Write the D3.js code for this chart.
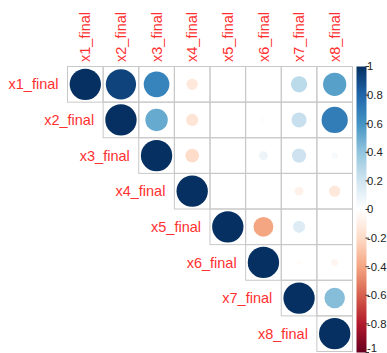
<!DOCTYPE html>
<html>
<head>
<meta charset="utf-8">
<script src="https://cdn.jsdelivr.net/npm/d3@7/dist/d3.min.js"></script>
<style>
  html, body { margin: 0; padding: 0; background: #fff; }
  svg { display: block; }
</style>
</head>
<body>
<script>
// Variable names (rows and columns of the correlation matrix)
const vars = ["x1_final", "x2_final", "x3_final", "x4_final", "x5_final", "x6_final", "x7_final", "x8_final"];

// Upper-triangle correlations, one array per row (starting at the diagonal)
const rowX1 = [1, 0.93, 0.67, -0.13, 0.01, 0.00, 0.27, 0.55];
const rowX2 = [1, 0.51, -0.15, 0.01, -0.02, 0.23, 0.70];
const rowX3 = [1, -0.19, 0.005, 0.08, 0.21, 0.04];
const rowX4 = [1, 0.01, 0.01, -0.08, -0.13];
const rowX5 = [1, -0.40, 0.15, 0.00];
const rowX6 = [1, -0.02, -0.05];
const rowX7 = [1, 0.43];
const rowX8 = [1];
const rows = [rowX1, rowX2, rowX3, rowX4, rowX5, rowX6, rowX7, rowX8];

// Colour legend tick labels
const legendTicks = [1, 0.8, 0.6, 0.4, 0.2, 0, -0.2, -0.4, -0.6, -0.8, -1];

// Red-blue diverging palette
const palette = ["#67001F", "#B2182B", "#D6604D", "#F4A582", "#FDDBC7", "#FFFFFF",
                 "#D1E5F0", "#92C5DE", "#4393C3", "#2166AC", "#053061"];

const W = 387, H = 353;
const svg = d3.select("body").append("svg").attr("width", W).attr("height", H);

const x = d3.scaleBand().domain(vars).range([67.5, 352.5]);
const y = d3.scaleBand().domain(vars).range([66.5, 351.5]);
const cell = x.bandwidth();

const color = d3.scaleLinear()
  .domain(d3.range(palette.length).map(i => -1 + 2 * i / (palette.length - 1)))
  .range(palette)
  .interpolate(d3.interpolateRgb);

const radius = d3.scaleSqrt().domain([0, 1]).range([0, cell * 0.44]);

// flatten into cells
const cells = [];
rows.forEach((vals, i) => {
  vals.forEach((v, k) => {
    const j = i + k;
    cells.push({ row: vars[i], col: vars[j], value: v });
  });
});

// grid
svg.append("g").selectAll("rect").data(cells).join("rect")
  .attr("x", d => x(d.col))
  .attr("y", d => y(d.row))
  .attr("width", cell)
  .attr("height", cell)
  .attr("fill", "none")
  .attr("stroke", "#c8c8c8")
  .attr("stroke-width", 1);

// circles
svg.append("g").selectAll("circle").data(cells).join("circle")
  .attr("cx", d => x(d.col) + cell / 2)
  .attr("cy", d => y(d.row) + cell / 2)
  .attr("r", d => radius(Math.abs(d.value)))
  .attr("fill", d => color(d.value));

const labelFont = "'Liberation Sans', Arial, sans-serif";

// row labels
svg.append("g").selectAll("text").data(vars).join("text")
  .attr("x", d => x(d) - 9)
  .attr("y", d => y(d) + cell / 2)
  .attr("dy", "0.35em")
  .attr("text-anchor", "end")
  .attr("font-family", labelFont)
  .attr("font-size", 14.5)
  .attr("fill", "#ff3030")
  .text(d => d);

// column labels (vertical)
svg.append("g").selectAll("text").data(vars).join("text")
  .attr("transform", d => `translate(${x(d) + cell / 2},62) rotate(-90)`)
  .attr("dy", "0.35em")
  .attr("text-anchor", "start")
  .attr("font-family", labelFont)
  .attr("font-size", 14.5)
  .attr("fill", "#ff3030")
  .text(d => d);

// colour legend
const lx = 356.5, lw = 10;
const ly = d3.scaleLinear().domain([1, -1]).range([66.5, 352.5]);
const defs = svg.append("defs");
const grad = defs.append("linearGradient").attr("id", "legendGrad")
  .attr("x1", 0).attr("y1", 0).attr("x2", 0).attr("y2", 1);
d3.range(0, 1.0001, 0.05).forEach(t => {
  grad.append("stop").attr("offset", t).attr("stop-color", color(1 - 2 * t));
});
svg.append("rect")
  .attr("x", lx).attr("y", ly(1))
  .attr("width", lw).attr("height", ly(-1) - ly(1))
  .attr("fill", "url(#legendGrad)");

const lg = svg.append("g");
lg.selectAll("line").data(legendTicks).join("line")
  .attr("x1", lx + lw - 1).attr("x2", lx + lw + 2.5)
  .attr("y1", d => ly(d)).attr("y2", d => ly(d))
  .attr("stroke", "#333").attr("stroke-width", 1);
lg.selectAll("text").data(legendTicks).join("text")
  .attr("x", lx + lw + 0.5)
  .attr("y", d => Math.min(ly(d), H - 5))
  .attr("dy", "0.35em")
  .attr("font-family", labelFont)
  .attr("font-size", 11.3)
  .attr("fill", "#222")
  .text(d => d < 0 ? "-" + Math.abs(d) : String(d));
</script>
</body>
</html>
